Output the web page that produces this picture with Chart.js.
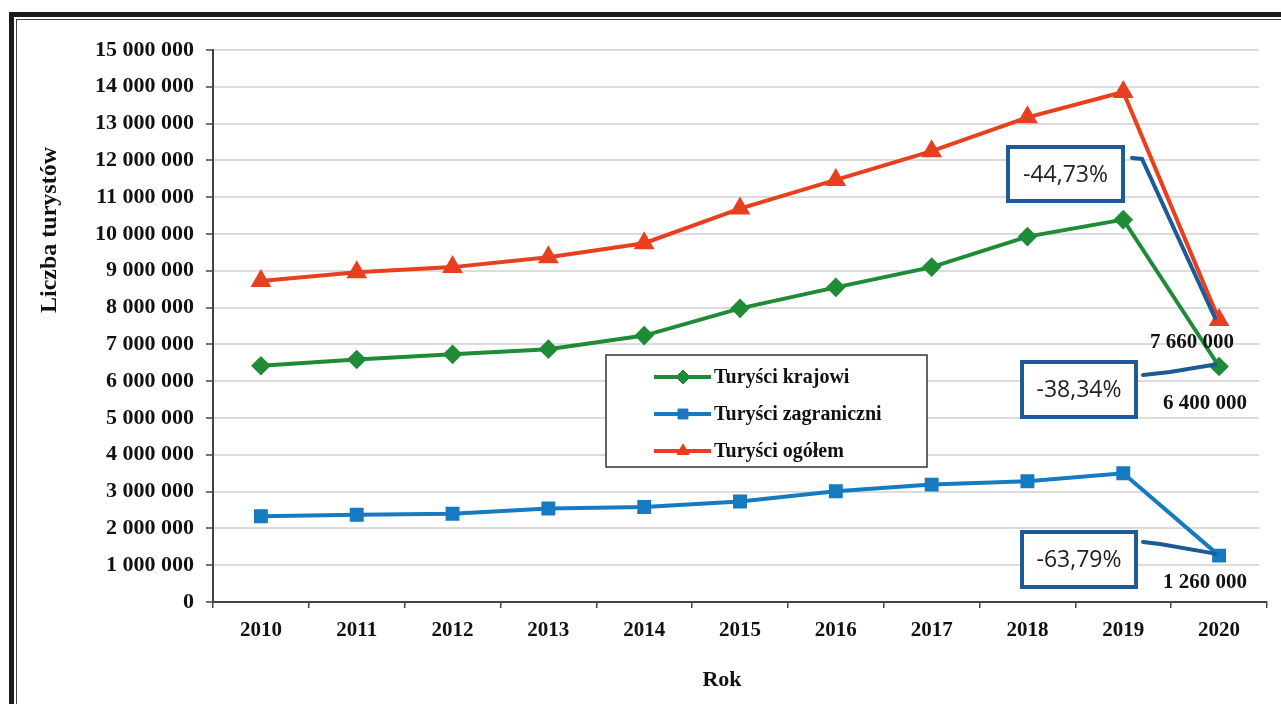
<!DOCTYPE html>
<html>
<head>
<meta charset="utf-8">
<script src="https://cdn.jsdelivr.net/npm/chart.js@4.4.0/dist/chart.umd.min.js"></script>
<style>
  html, body { margin: 0; padding: 0; background: #fff; overflow: hidden; }
  #wrap { position: relative; width: 1281px; height: 704px; }
  .frame { position: absolute; left: 9px; top: 12px; width: 1400px; height: 800px; border: 5px solid #1b1b1b; }
  .frame2 { position: absolute; left: 16px; top: 19px; width: 1400px; height: 800px; border: 1px solid #444; }
  canvas { position: absolute; left: 0; top: 0; }
</style>
</head>
<body>
<div id="wrap">
  <div class="frame"></div>
  <div class="frame2"></div>
  <canvas id="wykres" width="1281" height="704"></canvas>
</div>
<script>
// dane
var lata = ['2010', '2011', '2012', '2013', '2014', '2015', '2016', '2017', '2018', '2019', '2020'];
var krajowi = [6420000, 6590000, 6730000, 6870000, 7240000, 7980000, 8550000, 9100000, 9930000, 10390000, 6400000];
var zagraniczni = [2330000, 2370000, 2400000, 2540000, 2580000, 2730000, 3010000, 3190000, 3280000, 3500000, 1260000];
var ogolem = [8720000, 8960000, 9100000, 9370000, 9750000, 10690000, 11470000, 12250000, 13170000, 13860000, 7660000];
var nazwy = ['Turyści krajowi', 'Turyści zagraniczni', 'Turyści ogółem'];
var zmiany = ['-38,34%', '-63,79%', '-44,73%'];   // zmiana 2019 -> 2020, w kolejności serii
var yMax = 15000000;

var kolory = ['rgb(30,140,55)', 'rgb(22,122,192)', 'rgb(232,64,30)'];
var ksztalty = ['rectRot', 'rect', 'triangle'];
var serif = '"Liberation Serif", "Times New Roman", serif';

function formatLiczby(v) {
    return String(v).replace(/\B(?=(\d{3})+(?!\d))/g, ' ');
}

// legenda, ramki z procentami, podpisy wartości 2020
var dodatki = {
    id: 'dodatki',
    beforeDatasetsDraw: function (chart) {
        // linie siatki w oryginale kończą się przed końcem osi
        var c = chart.ctx, a = chart.chartArea;
        c.save();
        c.fillStyle = '#fff';
        c.fillRect(1259, a.top - 2, a.right - 1259 + 4, a.bottom - a.top);
        c.restore();
    },
    afterDraw: function (chart) {
        var c = chart.ctx;
        c.save();

        // tytuł osi Y
        c.fillStyle = '#111';
        c.font = 'bold 24px ' + serif;
        c.textAlign = 'center';
        c.textBaseline = 'middle';
        c.translate(50, 230);
        c.rotate(-Math.PI / 2);
        c.fillText('Liczba turystów', 0, 0);
        c.setTransform(1, 0, 0, 1, 0, 0);

        // tytuł osi X
        c.font = 'bold 22px ' + serif;
        c.fillText('Rok', 722, 680);

        // legenda
        c.strokeStyle = '#333';
        c.lineWidth = 1.5;
        c.fillStyle = '#fff';
        c.fillRect(606, 355, 321, 112);
        c.strokeRect(606, 355, 321, 112);
        c.font = 'bold 20px ' + serif;
        c.textAlign = 'left';
        for (var i = 0; i < 3; i++) {
            var y = 377 + i * 37;
            c.strokeStyle = kolory[i];
            c.lineWidth = 4;
            c.beginPath();
            c.moveTo(654, y);
            c.lineTo(711, y);
            c.stroke();
            c.fillStyle = kolory[i];
            c.lineWidth = 1;
            Chart.helpers.drawPoint(c, {pointStyle: ksztalty[i], radius: 7, borderWidth: 1}, 683, y);
            c.fill();
            c.fillStyle = '#111';
            c.fillText(nazwy[i], 714, y + 1);
        }

        // punkty 2020 wyliczane z osi
        var ost = lata.length - 1;
        var pkt = [0, 1, 2].map(function (s) {
            var e = chart.getDatasetMeta(s).data[ost];
            return {x: e.x, y: e.y};
        });

        // ramki z procentami i łączniki
        var ramki = [
            {s: 2, x: 1008, y: 147, w: 115, h: 54, linia: [[1132, 158], [1142, 159]]},
            {s: 0, x: 1022, y: 362, w: 114, h: 55, linia: [[1143, 375], [1170, 372]]},
            {s: 1, x: 1022, y: 532, w: 114, h: 55, linia: [[1143, 542], [1160, 544]]}
        ];
        c.font = '23px "Open Sans", "DejaVu Sans", sans-serif';
        c.textAlign = 'center';
        c.textBaseline = 'middle';
        ramki.forEach(function (r) {
            c.fillStyle = '#fff';
            c.fillRect(r.x, r.y, r.w, r.h);
            c.strokeStyle = 'rgb(30,90,150)';
            c.lineWidth = 4;
            c.strokeRect(r.x, r.y, r.w, r.h);
            c.fillStyle = '#222';
            c.fillText(zmiany[r.s], r.x + r.w / 2, r.y + r.h / 2 + 1);
            c.beginPath();
            c.moveTo(r.linia[0][0], r.linia[0][1]);
            c.lineTo(r.linia[1][0], r.linia[1][1]);
            c.lineTo(pkt[r.s].x - 4, pkt[r.s].y - 2);
            c.lineCap = 'round';
            c.stroke();
        });

        // podpisy wartości 2020
        c.font = 'bold 21px ' + serif;
        c.fillStyle = '#111';
        c.fillText(formatLiczby(ogolem[ost]), pkt[2].x - 27, pkt[2].y + 22);
        c.fillText(formatLiczby(krajowi[ost]), pkt[0].x - 14, pkt[0].y + 37);
        c.fillText(formatLiczby(zagraniczni[ost]), pkt[1].x - 14, pkt[1].y + 27);

        c.restore();
    }
};

function seria(idx, dane) {
    return {
        label: nazwy[idx],
        data: dane,
        borderColor: kolory[idx],
        backgroundColor: kolory[idx],
        pointBackgroundColor: kolory[idx],
        pointBorderColor: kolory[idx],
        pointStyle: ksztalty[idx],
        pointRadius: idx == 2 ? 8 : 7,
        borderWidth: 4,
        tension: 0
    };
}

// indeksy serii w pluginie: 0 krajowi, 1 zagraniczni, 2 ogółem
var data = {
    labels: lata,
    datasets: [seria(0, krajowi), seria(1, zagraniczni), seria(2, ogolem)]
};

var option = {
    responsive: false,
    animation: false,
    layout: { padding: { top: 50, right: 14, left: 0, bottom: 0 } },
    plugins: {
        legend: false,
        tooltip: { enabled: false }
    },
    scales: {
        x: {
            offset: true,
            grid: {
                offset: true,
                drawOnChartArea: false,
                drawTicks: true,
                tickLength: 6,
                color: '#444',
                lineWidth: 1.5
            },
            border: { color: '#444', width: 2 },
            ticks: {
                color: '#111',
                font: { family: serif, size: 21, weight: 'bold' },
                padding: 10,
                maxRotation: 0
            },
            afterFit: function (s) { s.height = 102; }
        },
        y: {
            min: 0,
            max: yMax,
            grid: {
                color: '#dcdcdc',
                lineWidth: 2,
                tickLength: 7,
                tickColor: '#444',
                tickWidth: 1.5
            },
            border: { color: '#444', width: 2 },
            ticks: {
                stepSize: 1000000,
                color: '#111',
                font: { family: serif, size: 22, weight: 'bold' },
                padding: 12,
                callback: function (v) { return formatLiczby(v); }
            },
            afterFit: function (s) { s.width = 213; }
        }
    }
};

var config = { type: 'line', data: data, options: option, plugins: [dodatki] };
var wykres = new Chart(document.getElementById('wykres'), config);
</script>
</body>
</html>
